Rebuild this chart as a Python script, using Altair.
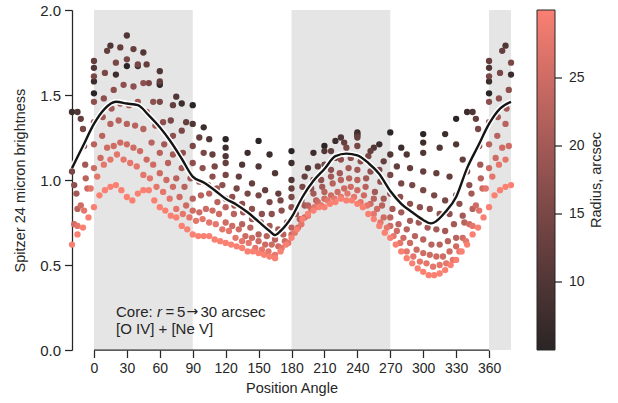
import altair as alt
import pandas as pd

# ---------------- data ----------------
radii = [5, 7.5, 10, 12.5, 15, 17.5, 20, 22.5, 25, 27.5, 30]
ring_step = [30, 20, 15, 12, 10, 9, 8, 7.5, 6, 6, 5]
ring_start = [0, 0, 0, 0, 0, 0, 0, 0, 0, 3, 0]

r05 = [1.51, 1.67, 1.56, 1.44, 1.24, 1.23, 1.17, 1.20, 1.27, 1.28, 1.27, 1.36]
r075 = [1.58, 1.62, 1.67, 1.57, 1.45, 1.31, 1.19, 1.16, 1.15, 1.10, 1.16, 1.23,
        1.28, 1.21, 1.19, 1.22, 1.27, 1.40]
r10 = [1.66, 1.79, 1.85, 1.75, 1.64, 1.49, 1.33, 1.24, 1.14, 1.09, 1.08, 1.04,
       1.00, 1.07, 1.17, 1.25, 1.26, 1.19, 1.15, 1.15, 1.16, 1.19, 1.21, 1.40]
r125 = [1.70, 1.76, 1.78, 1.77, 1.68, 1.58, 1.44, 1.34, 1.25, 1.15, 1.10, 1.02,
        0.98, 0.94, 0.92, 0.95, 1.02, 1.08, 1.17, 1.22, 1.25, 1.17, 1.11, 1.08,
        1.07, 1.05, 1.04, 1.02, 1.12, 1.36]
r15 = [1.61, 1.63, 1.69, 1.71, 1.68, 1.57, 1.46, 1.35, 1.29, 1.20, 1.16, 1.08,
       1.03, 0.95, 0.92, 0.91, 0.87, 0.88, 0.90, 0.96, 1.00, 1.09, 1.13, 1.19,
       1.20, 1.14, 1.06, 1.03, 0.98, 0.97, 0.94, 0.91, 0.88, 0.91, 1.05, 1.30]
r175 = [1.46, 1.48, 1.53, 1.56, 1.55, 1.57, 1.46, 1.34, 1.26, 1.16, 1.10, 1.07,
        1.02, 0.97, 0.90, 0.86, 0.83, 0.80, 0.80, 0.82, 0.84, 0.88, 0.95, 1.00,
        1.06, 1.12, 1.13, 1.11, 1.05, 0.99, 0.92, 0.90, 0.86, 0.84, 0.83, 0.80,
        0.80, 0.86, 0.97, 1.20]
r20 = [1.34, 1.37, 1.42, 1.45, 1.44, 1.46, 1.40, 1.32, 1.21, 1.15, 1.07, 1.01,
       0.99, 0.97, 0.95, 0.89, 0.85, 0.81, 0.77, 0.75, 0.73, 0.71, 0.75, 0.80,
       0.85, 0.92, 0.96, 1.02, 1.04, 1.07, 1.06, 1.01, 0.93, 0.89, 0.83, 0.81,
       0.76, 0.75, 0.72, 0.71, 0.70, 0.74, 0.79, 0.92, 1.09]
r225 = [1.21, 1.26, 1.33, 1.35, 1.33, 1.32, 1.30, 1.22, 1.16, 1.10, 1.01, 0.96,
        0.89, 0.91, 0.92, 0.87, 0.84, 0.80, 0.74, 0.72, 0.68, 0.67, 0.65, 0.68,
        0.72, 0.77, 0.85, 0.88, 0.93, 0.98, 1.00, 1.01, 1.00, 0.96, 0.89, 0.85,
        0.78, 0.74, 0.71, 0.67, 0.65, 0.62, 0.62, 0.64, 0.66, 0.75, 0.83, 1.01]
r25 = [1.07, 1.13, 1.19, 1.20, 1.22, 1.21, 1.19, 1.17, 1.12, 1.09, 1.04, 1.00,
       0.96, 0.90, 0.85, 0.82, 0.81, 0.83, 0.82, 0.80, 0.75, 0.73, 0.71, 0.67,
       0.66, 0.64, 0.62, 0.62, 0.61, 0.64, 0.68, 0.72, 0.78, 0.83, 0.87, 0.89,
       0.91, 0.93, 0.95, 0.96, 0.94, 0.91, 0.86, 0.83, 0.78, 0.73, 0.70, 0.66,
       0.63, 0.59, 0.57, 0.56, 0.55, 0.55, 0.58, 0.61, 0.66, 0.74, 0.85, 0.95]
r275 = [1.02, 1.09, 1.12, 1.15, 1.12, 1.10, 1.08, 1.03, 1.01, 0.96, 0.93, 0.89,
        0.83, 0.80, 0.78, 0.76, 0.77, 0.75, 0.74, 0.71, 0.70, 0.66, 0.64, 0.63,
        0.60, 0.59, 0.58, 0.56, 0.60, 0.63, 0.69, 0.74, 0.79, 0.84, 0.85, 0.88,
        0.89, 0.90, 0.92, 0.90, 0.87, 0.85, 0.80, 0.75, 0.72, 0.67, 0.63, 0.58,
        0.55, 0.52, 0.51, 0.49, 0.50, 0.51, 0.53, 0.58, 0.64, 0.73, 0.82, 0.95]
r30 = [0.84, 0.91, 0.94, 0.96, 0.97, 0.94, 0.90, 0.88, 0.92, 0.94, 0.94, 0.88,
       0.84, 0.82, 0.79, 0.78, 0.73, 0.71, 0.68, 0.67, 0.67, 0.67, 0.65, 0.64,
       0.63, 0.62, 0.61, 0.60, 0.58, 0.58, 0.57, 0.56, 0.55, 0.54, 0.58, 0.62,
       0.66, 0.71, 0.77, 0.80, 0.82, 0.84, 0.84, 0.86, 0.87, 0.89, 0.88, 0.88,
       0.86, 0.84, 0.80, 0.77, 0.73, 0.69, 0.66, 0.62, 0.58, 0.54, 0.51, 0.48,
       0.46, 0.44, 0.44, 0.45, 0.47, 0.50, 0.53, 0.58, 0.62, 0.68, 0.72, 0.78]
ring_values = [r05, r075, r10, r125, r15, r175, r20, r225, r25, r275, r30]

# mean core profile (black curve)
line_pa = [-20, -10, 0, 10, 20, 30, 40, 50, 60, 70, 80, 90, 100, 110, 120, 130,
           140, 150, 160, 165, 170, 180, 190, 200, 210, 220, 230, 240, 250, 260,
           270, 280, 290, 300, 307, 310, 320, 330, 340, 350, 360, 370, 380]
line_val = [1.07, 1.20, 1.33, 1.42, 1.46, 1.45, 1.44, 1.38, 1.31, 1.225, 1.125,
            1.02, 0.985, 0.94, 0.89, 0.855, 0.81, 0.755, 0.70, 0.676, 0.70, 0.78,
            0.90, 0.995, 1.065, 1.14, 1.155, 1.145, 1.10, 1.035, 0.935, 0.86,
            0.81, 0.765, 0.745, 0.75, 0.81, 0.90, 1.07, 1.20, 1.33, 1.42, 1.46]

band_start = [0, 180, 360]
band_end = [90, 270, 380]
x_ticks = [0, 30, 60, 90, 120, 150, 180, 210, 240, 270, 300, 330, 360]
y_ticks = [0.0, 0.5, 1.0, 1.5, 2.0]
cbar_ticks = [10, 15, 20, 25]
R_MIN, R_MAX = 5, 30
Y_MAX = 2.0

# ---------------- tables ----------------
rows = []
for r, st, s0, vals in zip(radii, ring_step, ring_start, ring_values):
    for i, v in enumerate(vals):
        pa = s0 + st * i
        rows.append({"pa": pa, "b": v, "radius": r})
        if pa >= 340:
            rows.append({"pa": pa - 360, "b": v, "radius": r})
        if pa <= 20:
            rows.append({"pa": pa + 360, "b": v, "radius": r})
pts = pd.DataFrame(rows)
line_df = pd.DataFrame({"pa": line_pa, "b": line_val})
band_df = pd.DataFrame({"x0": band_start, "x1": band_end})

FONT = "Liberation Sans"
INK = "#262626"
xscale = alt.Scale(domain=[-20, 380], nice=False, zero=False)
yscale = alt.Scale(domain=[0, Y_MAX], nice=False, zero=True)
xaxis = alt.Axis(title="Position Angle", values=x_ticks, domain=False, grid=False)
yaxis = alt.Axis(title="Spitzer 24 micron brightness", values=y_ticks, format=".1f",
                 grid=False, labelFontSize=15, titlePadding=12)

bands = alt.Chart(band_df).mark_rect(color="#e5e5e5").encode(
    x=alt.X("x0:Q", scale=xscale, axis=xaxis),
    x2="x1:Q",
    y=alt.value(0), y2=alt.value(340),
)

points = alt.Chart(pts).mark_circle(size=40, opacity=1).encode(
    x=alt.X("pa:Q", scale=xscale, axis=xaxis),
    y=alt.Y("b:Q", scale=yscale, axis=yaxis),
    color=alt.Color("radius:Q",
                    scale=alt.Scale(domain=[R_MIN, R_MAX], range=["#2b2525", "#fa8072"]),
                    legend=alt.Legend(title=None, orient="none",
                                      legendX=465, legendY=0, direction="vertical",
                                      gradientLength=340, gradientThickness=18,
                                      values=cbar_ticks, labelOffset=14,
                                      fillColor="transparent", zindex=0,
                                      gradientStrokeColor=INK, gradientStrokeWidth=1)),
)

halo = alt.Chart(line_df).mark_line(color="white", strokeWidth=5.5,
                                   interpolate="monotone").encode(
    x=alt.X("pa:Q", scale=xscale, axis=xaxis),
    y=alt.Y("b:Q", scale=yscale, axis=yaxis))
curve = alt.Chart(line_df).mark_line(color="#151515", strokeWidth=2.4,
                                    interpolate="monotone").encode(
    x=alt.X("pa:Q", scale=xscale, axis=xaxis),
    y=alt.Y("b:Q", scale=yscale, axis=yaxis))

xspine = alt.Chart(pd.DataFrame({"a": [0], "b": [360]})).mark_rule(
    color=INK, strokeWidth=1.25).encode(
    x=alt.X("a:Q", scale=xscale, axis=xaxis), x2="b:Q", y=alt.value(340))

# colour-bar tick marks: radius value re-expressed on the plot's vertical scale
cb_ticks = alt.Chart(pd.DataFrame({"v": cbar_ticks})).transform_calculate(
    yb=f"(datum.v - {R_MIN}) / ({R_MAX} - {R_MIN}) * {Y_MAX}"
).mark_tick(color=INK, orient="horizontal", size=7, thickness=1.25, opacity=1).encode(
    y=alt.Y("yb:Q", scale=yscale, axis=yaxis),
    x=alt.value(486.5))

tstyle = dict(font=FONT, fontSize=15, color=INK, align="left", baseline="middle")
def txt(s, x, y, **kw):
    style = dict(tstyle)
    style.update(kw)
    return alt.Chart(pd.DataFrame({"t": [s]})).mark_text(**style).encode(
        text="t:N", x=alt.value(x), y=alt.value(y))

t1 = txt("Core: ", 44, 301.5)
t2 = txt("r", 85, 301.5, fontStyle="italic")
t3 = txt("=", 93.5, 301.5)
t4 = txt("5", 105, 301.5)
t5 = txt("\u2192", 114.5, 302, font="DejaVu Sans", fontSize=14)
t6 = txt("30 arcsec", 128.5, 301.5)
t7 = txt("[O IV] + [Ne V]", 44, 318.5)
cbt = alt.Chart(pd.DataFrame({"t": ["Radius, arcsec"]})).mark_text(
    font=FONT, fontSize=14.5, color=INK, align="center", baseline="middle",
    angle=270).encode(text="t:N", x=alt.value(525), y=alt.value(170))

chart = alt.layer(bands, points, halo, curve, xspine,
                  t1, t2, t3, t4, t5, t6, t7, cbt, cb_ticks).properties(
    width=439, height=340,
    autosize=alt.AutoSizeParams(type="none"),
    padding={"left": 72, "top": 10, "right": 107, "bottom": 53},
).configure_view(stroke=None).configure_axis(
    labelFont=FONT, titleFont=FONT, labelFontSize=14, titleFontSize=14.5,
    labelColor=INK, titleColor=INK, tickColor=INK, domainColor=INK,
    tickSize=7.5, tickWidth=1.25, domainWidth=1.25, titleFontWeight="normal",
    labelPadding=4, titlePadding=6,
).configure_legend(
    labelFont=FONT, titleFont=FONT, labelFontSize=14, titleFontSize=14.5,
    labelColor=INK, titleColor=INK, titleFontWeight="normal",
)

chart.save("out.html", embed_options={"renderer": "svg", "actions": False})
